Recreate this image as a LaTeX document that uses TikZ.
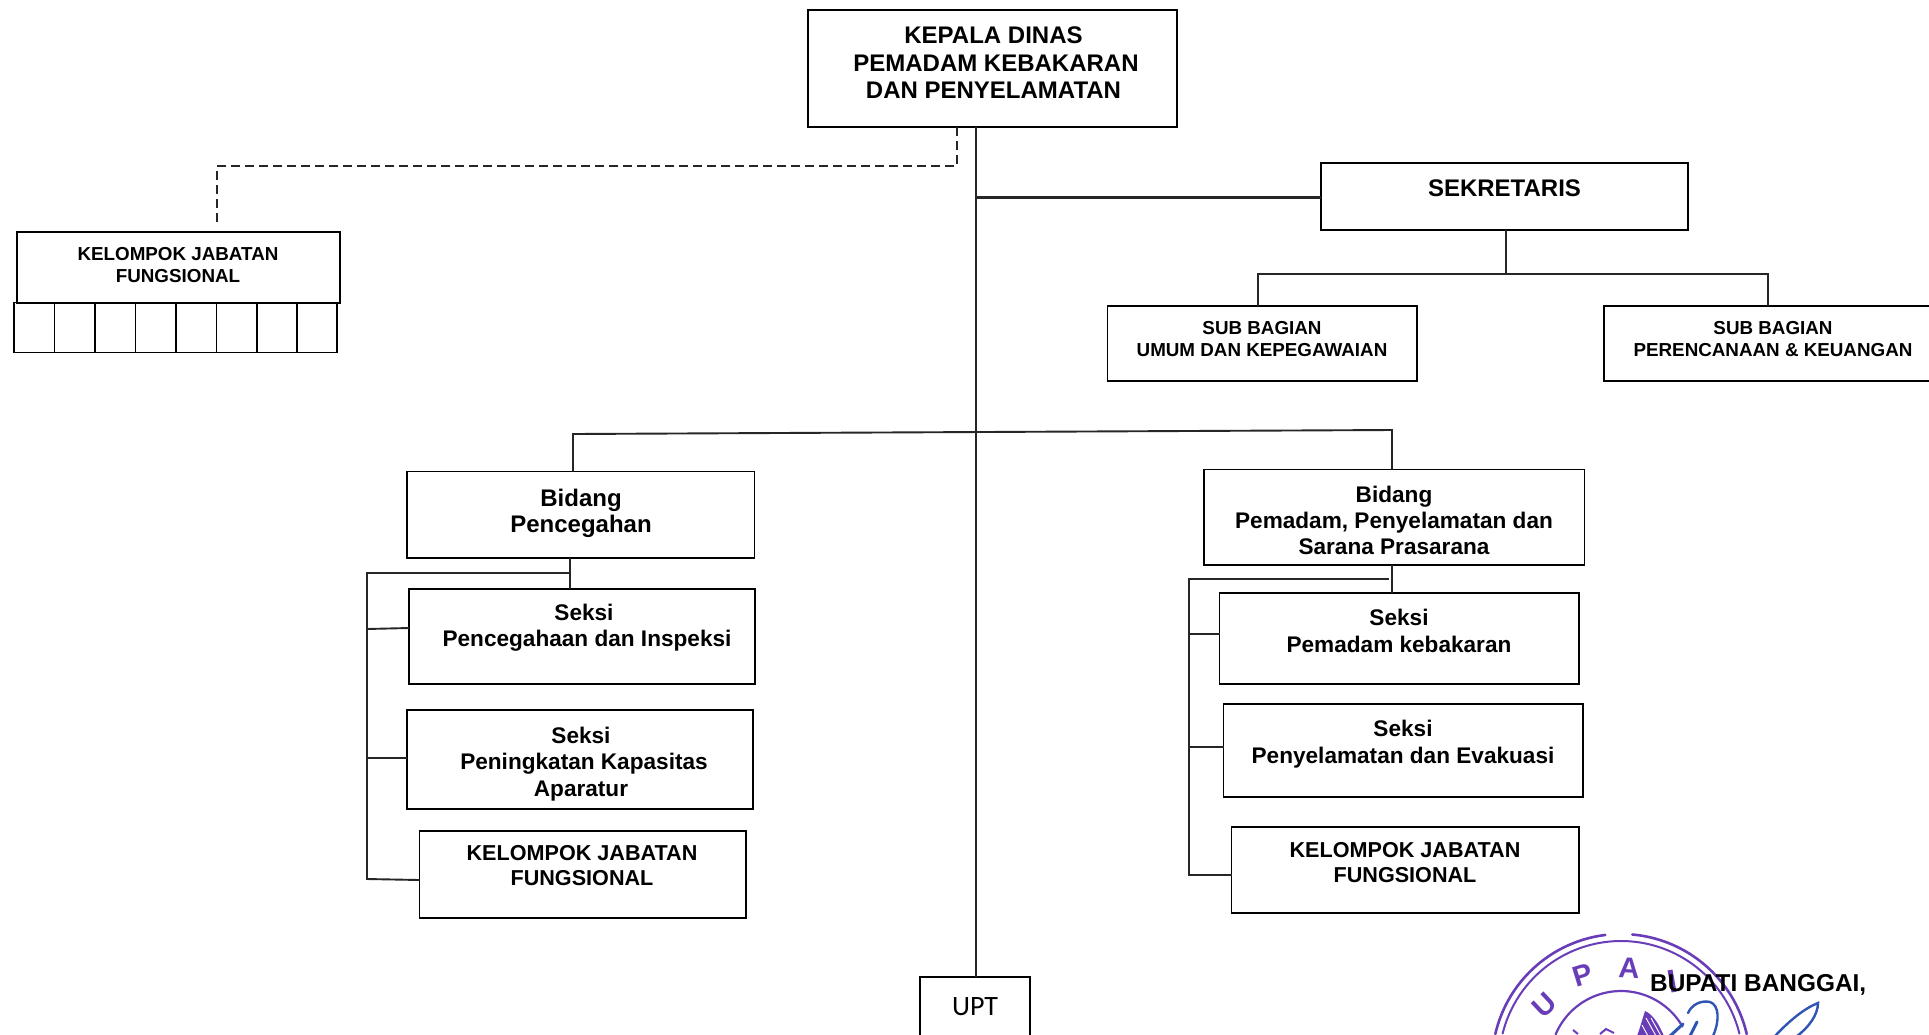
\documentclass[tikz,border=0pt]{standalone}
\usepackage{fontspec}
\setmainfont{Liberation Sans}
\newfontfamily\uptfont{Carlito}
\definecolor{stampc}{HTML}{6A3DB8}
\definecolor{signc}{HTML}{2F55B5}
\newcommand{\fs}[2]{\fontsize{#1}{#2}\selectfont\bfseries}
\tikzset{
  boxn/.style={draw=black,line width=1.9pt,fill=white,inner sep=0pt,outer sep=0pt,rectangle},
  conn/.style={draw=black!85,line width=1.9pt,line cap=butt},
  dashconn/.style={draw=black!85,line width=1.7pt,dash pattern=on 9pt off 5pt},
  lblhuge/.style={inner sep=0pt,align=center,font=\fs{24}{27.5}},
  lblbid/.style={inner sep=0pt,align=center,font=\fs{24}{26.3}},
  lblbig/.style={inner sep=0pt,align=center,font=\fs{22.6}{26.3}},
  lblmid/.style={inner sep=0pt,align=center,font=\fs{21.6}{25}},
  lblsmall/.style={inner sep=0pt,align=center,font=\fs{18.8}{22}},
  ring/.style={draw=stampc,line width=2.6pt,line cap=round,smooth},
  stampl/.style={inner sep=0pt,text=stampc,font=\fs{29}{30}},
  signs/.style={draw=signc,line width=2.4pt,line cap=round}
}
\newcommand{\bx}[5]{%
  \pgfmathsetmacro{\bw}{#4-#2}\pgfmathsetmacro{\bh}{#5-#3}%
  \pgfmathsetmacro{\bcx}{(#4+#2)/2}\pgfmathsetmacro{\bcy}{(#5+#3)/2}%
  \node[boxn,minimum width=\bw pt,minimum height=\bh pt] (#1) at (\bcx,\bcy) {};}
\begin{document}
\begin{tikzpicture}[x=1pt,y=-1pt]
\useasboundingbox (0,0) rectangle (1929,1034);
\clip (0,0) rectangle (1929,1034);
\fill[white] (0,0) rectangle (1929,1034);

% stamp
\draw[ring] plot[domain=167:97,samples=50] ({1621+129*cos(\x)},{1063-129*sin(\x)});
\draw[ring] plot[domain=85:13,samples=50] ({1621+129*cos(\x)},{1063-129*sin(\x)});
\draw[ring,line width=2pt] plot[domain=166:14,samples=70] ({1621+122*cos(\x)},{1063-122*sin(\x)});
\draw[ring,line width=2.2pt] plot[domain=157:30,samples=50] ({1621+71*cos(\x)},{1062-71*sin(\x)});
\node[stampl,rotate=43] (stampU) at (1544,1005) {U};
\node[stampl,rotate=17] (stampP) at (1583,975) {P};
\node[stampl,rotate=-3] (stampA) at (1629,968) {A};
\draw[stampc,line width=5pt] (1670,970) -- (1674,992);
\fill[stampc] (1645,1011) .. controls (1652,1014) and (1658,1022) .. (1664,1036) -- (1637,1036) .. controls (1640,1028) and (1642,1020) .. (1645,1011) -- cycle;
\draw[white,line width=0.9pt] (1646,1018) -- (1656,1036) (1642,1025) -- (1648,1036) (1651,1018) -- (1661,1036);
\draw[stampc,line width=2pt] (1573,1030) -- (1578,1034) (1600,1034) -- (1606,1029) -- (1614,1033);

% signature
\draw[signs] (1688,1013) .. controls (1692,1004) and (1702,1000) .. (1710,1002) .. controls (1719,1005) and (1720,1020) .. (1713,1036);
\draw[signs,line width=3pt] (1683,1024) -- (1670,1036) (1697,1022) -- (1690,1036);
\draw[signs] (1775,1036) .. controls (1790,1020) and (1805,1008) .. (1818,1003) .. controls (1818,1015) and (1808,1028) .. (1797,1036);

% boxes
\bx{kepala}{808}{10}{1177}{127}
\bx{sekretaris}{1321}{163}{1688}{230}
\bx{subumum}{1107.5}{306}{1417}{381}
\bx{subrenc}{1604}{306}{1945}{381}
\bx{upt}{920}{977}{1030}{1060}

\bx{c1}{14}{302.5}{54.5}{352.5}
\bx{c2}{54.5}{302.5}{95}{352.5}
\bx{c3}{95}{302.5}{135.5}{352.5}
\bx{c4}{135.5}{302.5}{176}{352.5}
\bx{c5}{176}{302.5}{216.5}{352.5}
\bx{c6}{216.5}{302.5}{257}{352.5}
\bx{c7}{257}{302.5}{297}{352.5}
\bx{c8}{297}{302.5}{337}{352.5}
\bx{kjftop}{17}{232}{340}{303}

\bx{bidl}{407}{471.5}{754.5}{558}
\bx{sekl1}{409}{589}{755}{684}
\bx{sekl2}{407}{710}{753}{809}
\bx{kjfl}{419.5}{831}{746}{918}

\bx{bidr}{1204}{469.5}{1584.5}{565}
\bx{sekr1}{1219.5}{593}{1579}{684}
\bx{sekr2}{1223.5}{704}{1583}{797}
\bx{kjfr}{1231.5}{827}{1579}{913}

% connector helpers
\coordinate (trunk) at (976,0);
\coordinate (dashx) at (957,0);
\coordinate (dashtop) at (217,166);
\coordinate (dashend) at (217,223);
\coordinate (sekj) at (1506,274);
\coordinate (hl) at (573,434);
\coordinate (hr) at (1392,430);
\coordinate (busl) at (367,573);
\coordinate (busle) at (367,879);
\coordinate (busr) at (1189,579);
\coordinate (busre) at (1189,875);

% connectors
\draw[conn] (kepala.south -| trunk) -- (upt.north -| trunk);
\draw[dashconn] (kepala.south -| dashx) -- (dashx |- dashtop) -- (dashtop) -- (dashend);
\draw[conn,line width=2.3pt] (976,197.5) -- (sekretaris.west |- 0,197.5);
\draw[conn] (sekretaris.south -| sekj) -- (sekj);
\draw[conn] (subumum.north -| 1258,0) -- (1258,274) -- (1768,274) -- (subrenc.north -| 1768,0);
\draw[conn] (hl |- bidl.north) -- (hl) -- (hr) -- (hr |- bidr.north);

\draw[conn] (570,558) -- (570,589);
\draw[conn] (570,573) -- (busl) -- (busle) -- (kjfl.west |- 0,880);
\draw[conn] (367,629) -- (sekl1.west |- 0,628);
\draw[conn] (367,758) -- (sekl2.west |- 0,758);

\draw[conn] (1392,565) -- (1392,593);
\draw[conn] (1389,579) -- (busr) -- (busre) -- (kjfr.west |- 0,875);
\draw[conn] (1189,634) -- (sekr1.west |- 0,634);
\draw[conn] (1189,747) -- (sekr2.west |- 0,747);

% labels
\node[lblhuge] (tkepala) at (993.5,63) {KEPALA DINAS\\\hspace*{5pt}PEMADAM KEBAKARAN\\DAN PENYELAMATAN};
\node[lblhuge] (tsek) at (1504.5,188) {SEKRETARIS};
\node[lblsmall] (tumum) at (1262,339) {SUB BAGIAN\\UMUM DAN KEPEGAWAIAN};
\node[lblsmall] (trenc) at (1773,339) {SUB BAGIAN\\PERENCANAAN \& KEUANGAN};
\node[lblsmall] (tkjftop) at (178,265) {KELOMPOK JABATAN\\FUNGSIONAL};
\node[lblbid] (tbidl) at (581,513) {Bidang\\Pencegahan};
\node[lblbig] (tsekl1) at (584,628) {Seksi\\\hspace*{6pt}Pencegahaan dan Inspeksi};
\node[lblbig] (tsekl2) at (581,764) {Seksi\\\hspace*{6pt}Peningkatan Kapasitas\\Aparatur};
\node[lblmid] (tkjfl) at (582,866) {KELOMPOK JABATAN\\FUNGSIONAL};
\node[lblbig] (tbidr) at (1394,520.5) {Bidang\\Pemadam, Penyelamatan dan\\Sarana Prasarana};
\node[lblbig] (tsekr1) at (1399,631) {Seksi\\Pemadam kebakaran};
\node[lblbig] (tsekr2) at (1403,744) {Seksi\\Penyelamatan dan Evakuasi};
\node[lblmid] (tkjfr) at (1405,863) {KELOMPOK JABATAN\\FUNGSIONAL};
\node[inner sep=0pt,font=\uptfont\fontsize{28}{30}\selectfont] (tupt) at (975,1007) {UPT};
\node[inner sep=0pt,anchor=west,font=\fs{24.4}{28}] (tbupati) at (1650,985) {BUPATI BANGGAI,};
\end{tikzpicture}
\end{document}
